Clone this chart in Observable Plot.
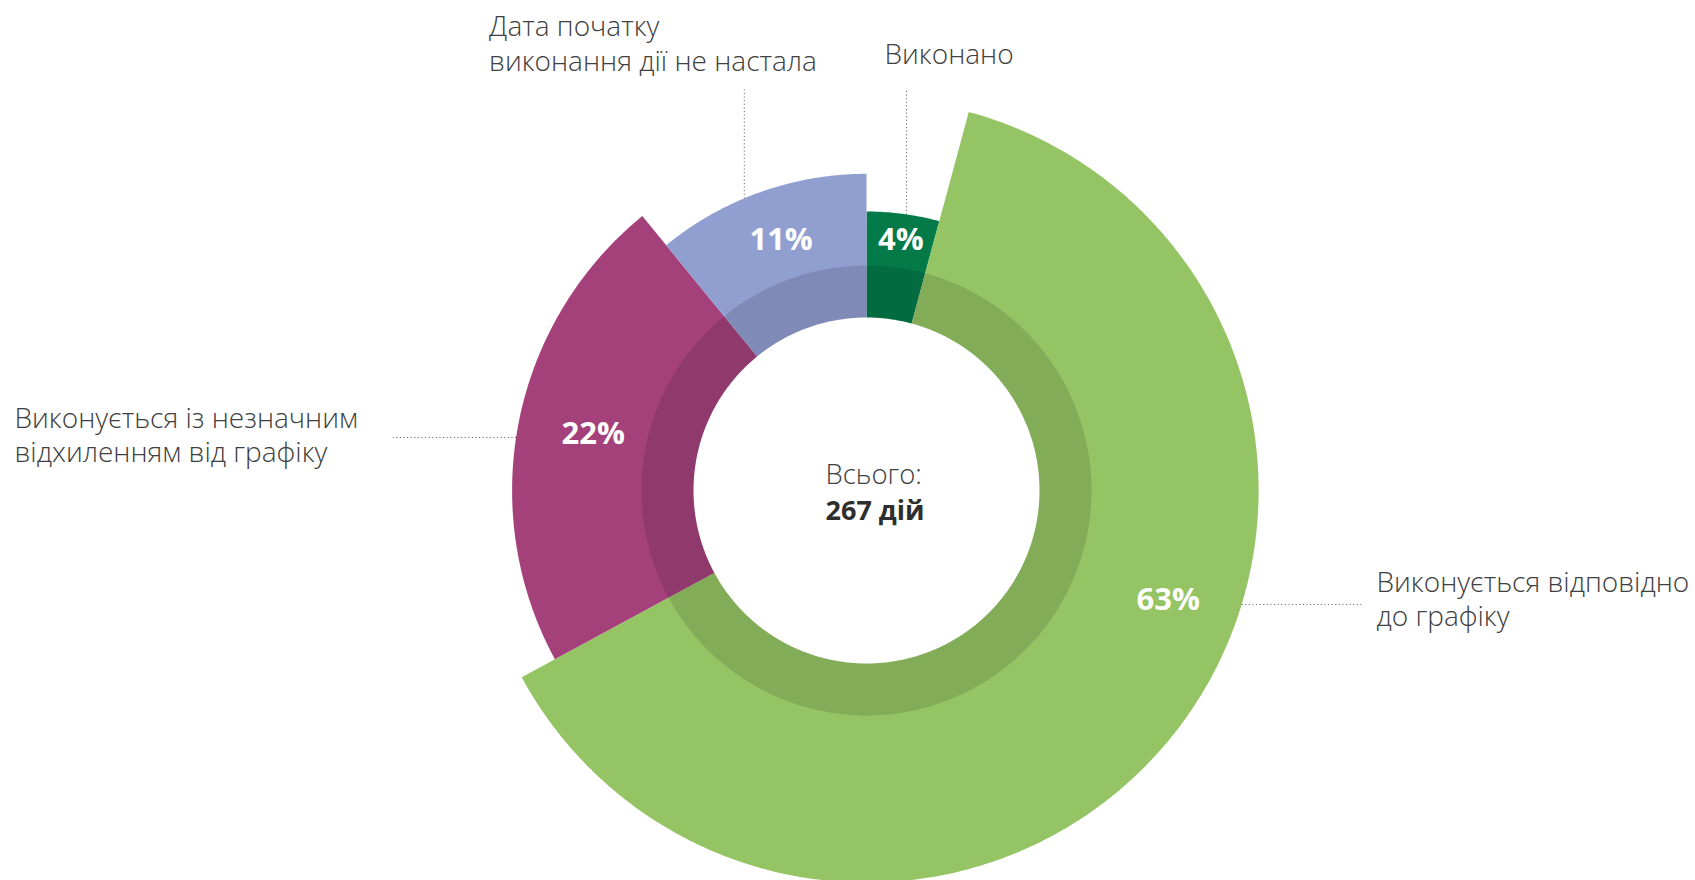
<!DOCTYPE html>
<html><head><meta charset="utf-8">
<script src="https://cdn.jsdelivr.net/npm/d3@7"></script>
<script src="https://cdn.jsdelivr.net/npm/@observablehq/plot@0.6"></script>
<style>body{margin:0;background:#fff} svg{display:block}</style>
</head><body><div id="chart"></div>
<script>
// ---- data ----
const categories = [
  "Виконано",
  "Виконується відповідно до графіку",
  "Виконується із незначним відхиленням від графіку",
  "Дата початку виконання дії не настала"
];
const labelLines = [
  ["Виконано"],
  ["Виконується відповідно", "до графіку"],
  ["Виконується із незначним", "відхиленням від графіку"],
  ["Дата початку", "виконання дії не настала"]
];
const shares = [4.2, 62.9, 22.0, 10.9];
const totalLabel = "Всього:";
const totalValue = "267 дій";

// ---- layout / style (not data) ----
const W = 1695, H = 880;
const cx = 866, cy = 490;
const holeR = 173, ringR = 225, minR = 279, stepR = 37.7;
const palette = ["#047a49", "#94c463", "#a4417b", "#919fd0"];
const font = "Open Sans, sans-serif";
// percent label placement (angle clockwise from 12 o'clock, radius)
const pctPlace = [{a: 7.8, r: 253}, {a: 110, r: 321}, {a: 281.7, r: 279}, {a: 341.2, r: 265}];
// leader lines: angle on outer arc, orientation and end coordinate
const leaderPlace = [
  {a: 8.25, o: "v", end: -401.5},
  {a: 106.9, o: "h", end: 495.7},
  {a: 278.6, o: "h", end: -473.6},
  {a: 337.3, o: "v", end: -401.5}
];
// label block (left x, middle y) relative to centre
const labelPlace = [{x: 18, y: -438}, {x: 510, y: 107.5}, {x: -852, y: -56.5}, {x: -377.4, y: -448.3}];

// ---- geometry ----
const total = d3.sum(shares);
const order = shares.map((v, i) => i).sort((a, b) => shares[a] - shares[b]);
const rank = []; order.forEach((idx, k) => rank[idx] = k);
const rad = a => a * Math.PI / 180;
const pt = (a, r) => ({x: r * Math.sin(rad(a)), y: -r * Math.cos(rad(a))});
let acc = 0;
const slices = categories.map((c, i) => {
  const a0 = acc / total * 360; acc += shares[i];
  const a1 = acc / total * 360;
  return {category: c, share: shares[i], a0, a1, r: minR + stepR * rank[i], label: Math.round(shares[i]) + "%"};
});
const sectorPts = [];
slices.forEach(s => {
  sectorPts.push({x: 0, y: 0, category: s.category});
  const n = Math.max(2, Math.ceil((s.a1 - s.a0) / 0.5));
  for (let k = 0; k <= n; k++) {
    const a = s.a0 + (s.a1 - s.a0) * k / n;
    sectorPts.push({...pt(a, s.r), category: s.category});
  }
  sectorPts.push({x: 0, y: 0, category: s.category});
});
const circle = r => d3.range(0, 361, 0.5).map(a => pt(a, r));

const pctLabels = slices.map((s, i) => ({...pt(pctPlace[i].a, pctPlace[i].r), text: s.label}));
const leaders = slices.map((s, i) => {
  const p = pt(leaderPlace[i].a, s.r);
  return leaderPlace[i].o === "v"
    ? {x1: p.x, y1: p.y, x2: p.x, y2: leaderPlace[i].end}
    : {x1: p.x, y1: p.y, x2: leaderPlace[i].end, y2: p.y};
});
const outerLabels = labelLines.map((lines, i) => ({x: labelPlace[i].x, y: labelPlace[i].y, text: lines.join("\n")}));
const centerText = [{x: -41, y: -15.5, text: totalLabel, w: 400}, {x: -41, y: 20.5, text: totalValue, w: 700}];

const chart = Plot.plot({
  width: W, height: H,
  margin: 0,
  style: {fontFamily: font, background: "#fff"},
  x: {domain: [-cx, W - cx], range: [0, W], axis: null},
  y: {domain: [-cy, H - cy], range: [0, H], axis: null},
  color: {domain: categories, range: palette},
  marks: [
    Plot.line(sectorPts, {x: "x", y: "y", z: "category", fill: "category", stroke: "none", curve: "linear"}),
    Plot.line(circle(ringR), {x: "x", y: "y", fill: "black", fillOpacity: 0.12, stroke: "none"}),
    Plot.line(circle(holeR), {x: "x", y: "y", fill: "white", stroke: "none"}),
    Plot.link(leaders, {x1: "x1", y1: "y1", x2: "x2", y2: "y2", stroke: "#555", strokeWidth: 1, strokeDasharray: "1,2.6"}),
    Plot.text(pctLabels, {x: "x", y: "y", text: "text", fill: "white", fontWeight: 700, fontSize: 31}),
    Plot.text(outerLabels, {x: "x", y: "y", text: "text", textAnchor: "start", lineAnchor: "middle", lineHeight: 1.24, fontSize: 28, fontWeight: 300, fill: "#404040"}),
    Plot.text(centerText.filter(d => d.w === 400), {x: "x", y: "y", text: "text", textAnchor: "start", fontSize: 27.5, fontWeight: 300, fill: "#404040"}),
    Plot.text(centerText.filter(d => d.w === 700), {x: "x", y: "y", text: "text", textAnchor: "start", fontSize: 27, fontWeight: 700, fill: "#2e2e2e"})
  ]
});
document.getElementById("chart").appendChild(chart);
</script>
</body></html>
